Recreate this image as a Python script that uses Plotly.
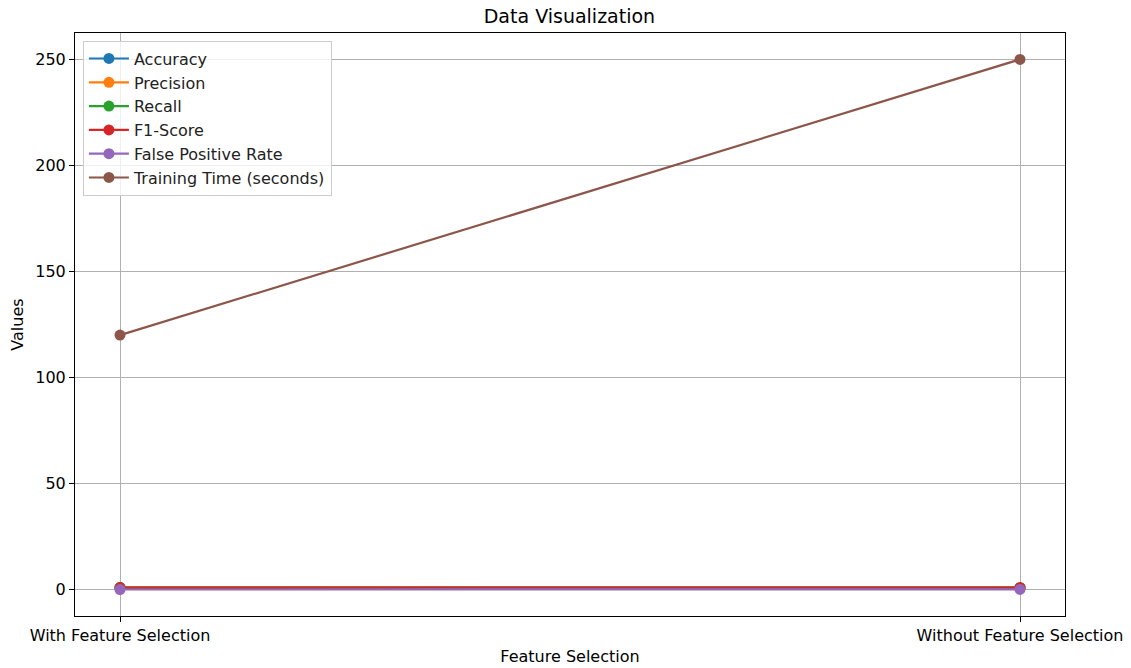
import plotly.graph_objects as go

categories = ["With Feature Selection", "Without Feature Selection"]
accuracy = [0.95, 0.92]
precision = [0.94, 0.91]
recall = [0.93, 0.90]
f1_score = [0.935, 0.905]
false_positive_rate = [0.05, 0.08]
training_time = [120, 250]

series = [
    ("Accuracy", accuracy, "#1f77b4"),
    ("Precision", precision, "#ff7f0e"),
    ("Recall", recall, "#2ca02c"),
    ("F1-Score", f1_score, "#d62728"),
    ("False Positive Rate", false_positive_rate, "#9467bd"),
    ("Training Time (seconds)", training_time, "#8c564b"),
]

fig = go.Figure()
for name, vals, color in series:
    fig.add_trace(go.Scatter(
        x=[0, 1], y=vals, mode="lines+markers", name=name,
        line=dict(color=color, width=2.2),
        marker=dict(color=color, size=11),
    ))

font = "DejaVu Sans"
fig.update_layout(
    width=1131, height=668,
    margin=dict(l=75, r=66, t=33, b=52),
    paper_bgcolor="white", plot_bgcolor="white",
    font=dict(family=font, size=16, color="black"),
    title=dict(text="Data Visualization", x=0.5035, xanchor="center", y=0.976, yanchor="middle",
               font=dict(family=font, size=19, color="black")),
    showlegend=True,
    legend=dict(x=0.008, y=0.987, xanchor="left", yanchor="top",
                bgcolor="rgba(255,255,255,0.8)", bordercolor="#cccccc", borderwidth=1,
                font=dict(family=font, size=16, color="#222222"),
                tracegroupgap=0, itemwidth=40),
)
fig.update_xaxes(
    range=[-0.05, 1.05], tickmode="array", tickvals=[0, 1], ticktext=categories,
    showgrid=True, gridcolor="#b0b0b0", gridwidth=1,
    showline=True, linecolor="black", linewidth=1, mirror=True,
    ticks="outside", ticklen=5, tickcolor="black", zeroline=False,
    automargin=False, ticklabeloverflow="allow",
    title=dict(text="Feature Selection", standoff=6, font=dict(family=font, size=16)),
    tickfont=dict(family=font, size=16),
)
fig.update_yaxes(
    range=[-12.45, 262.45], tickmode="array", tickvals=[0, 50, 100, 150, 200, 250],
    showgrid=True, gridcolor="#b0b0b0", gridwidth=1,
    showline=True, linecolor="black", linewidth=1, mirror=True,
    ticks="outside", ticklen=5, tickcolor="black", zeroline=False,
    automargin=False,
    title=dict(text="Values", standoff=7, font=dict(family=font, size=16)),
    tickfont=dict(family=font, size=16),
)
fig.write_html("out.html", config={"displayModeBar": False},
               post_script="document.body.style.margin='0';")
